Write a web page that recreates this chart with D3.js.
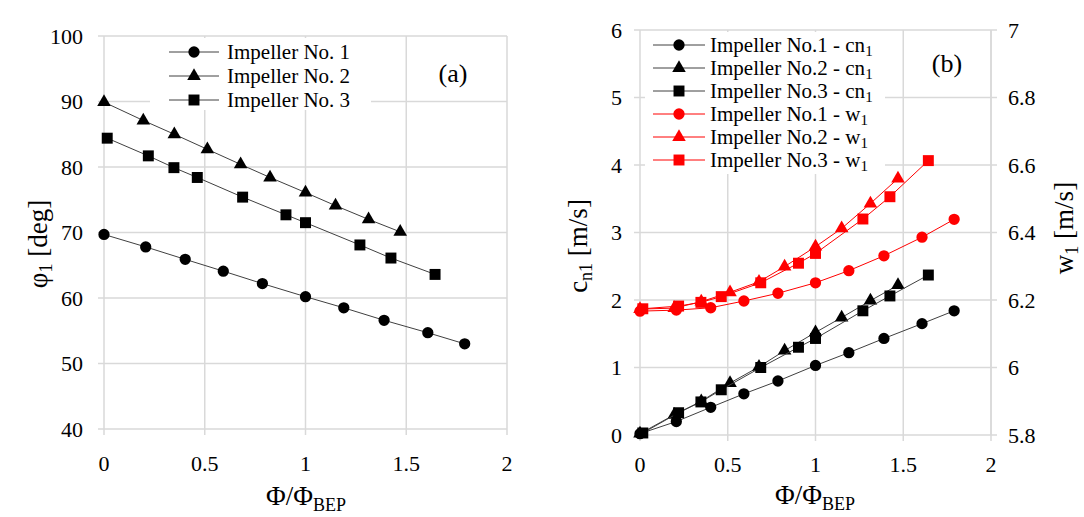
<!DOCTYPE html>
<html>
<head>
<meta charset="utf-8">
<script src="https://cdn.jsdelivr.net/npm/d3@7"></script>
</head>
<body style="margin:0">
<svg id="chart" width="1084" height="517"></svg>
<script>
// x positions (flow ratio) for each impeller
const flowImp1 = [0, 0.207, 0.403, 0.592, 0.786, 1.0, 1.19, 1.39, 1.607, 1.79];
const flowImp2 = [0, 0.195, 0.349, 0.513, 0.678, 0.824, 1.0, 1.149, 1.313, 1.47];
const flowImp3 = [0.016, 0.22, 0.347, 0.463, 0.688, 0.903, 1.0, 1.27, 1.424, 1.643];

// (a) inlet angle phi1 [deg]
const phiImp1 = [69.7, 67.8, 65.9, 64.1, 62.2, 60.2, 58.5, 56.6, 54.7, 53.0];
const phiImp2 = [89.9, 87.1, 85.0, 82.7, 80.4, 78.4, 76.1, 74.1, 72.0, 70.1];
const phiImp3 = [84.4, 81.7, 79.9, 78.4, 75.4, 72.7, 71.5, 68.1, 66.1, 63.6];

// (b) cn1 [m/s] (left axis) and w1 [m/s] (right axis)
const cnImp1 = [0.02, 0.20, 0.41, 0.61, 0.80, 1.03, 1.22, 1.43, 1.65, 1.84];
const cnImp2 = [0.02, 0.30, 0.50, 0.77, 1.01, 1.25, 1.52, 1.74, 1.99, 2.22];
const cnImp3 = [0.03, 0.33, 0.49, 0.67, 1.00, 1.30, 1.43, 1.84, 2.06, 2.37];
const wImp1 = [6.167, 6.170, 6.177, 6.197, 6.220, 6.251, 6.287, 6.331, 6.386, 6.439];
const wImp2 = [6.173, 6.176, 6.195, 6.223, 6.254, 6.299, 6.358, 6.412, 6.486, 6.560];
const wImp3 = [6.174, 6.182, 6.193, 6.210, 6.251, 6.309, 6.338, 6.440, 6.506, 6.613];

const xTicks = [0, 0.5, 1, 1.5, 2];
const phiTicks = [40, 50, 60, 70, 80, 90, 100];
const cnTicks = [0, 1, 2, 3, 4, 5, 6];
const wTicks = [5.8, 6, 6.2, 6.4, 6.6, 6.8, 7];

const legendA = ["Impeller No. 1", "Impeller No. 2", "Impeller No. 3"];
const legendB = ["Impeller No.1 - cn", "Impeller No.2 - cn", "Impeller No.3 - cn",
                 "Impeller No.1 - w", "Impeller No.2 - w", "Impeller No.3 - w"];

const GRID = "#d9d9d9";
const symbols = [d3.symbolCircle, d3.symbolTriangle, d3.symbolSquare];
const symSize = [100, 80, 120];

const svg = d3.select("#chart");

function zip(xs, ys) { return xs.map((x, i) => [x, ys[i]]); }

function label(parent, size) {
  return parent.append("text")
    .attr("font-size", size)
    .style("font-family", "'Liberation Serif'");
}

function grid(g, x, y, xt, yt) {
  g.append("g").selectAll("line").data(xt).join("line")
    .attr("x1", d => x(d)).attr("x2", d => x(d))
    .attr("y1", y.range()[0] + 6).attr("y2", y.range()[1])
    .attr("stroke", GRID).attr("stroke-width", 1.5);
  g.append("g").selectAll("line").data(yt).join("line")
    .attr("x1", x.range()[0] - 6).attr("x2", x.range()[1])
    .attr("y1", d => y(d)).attr("y2", d => y(d))
    .attr("stroke", GRID).attr("stroke-width", 1.5);
}

function series(g, x, y, data, sym, size, color, lineColor) {
  g.append("path").datum(data)
    .attr("fill", "none").attr("stroke", lineColor).attr("stroke-width", 1)
    .attr("d", d3.line().x(d => x(d[0])).y(d => y(d[1])));
  g.append("g").selectAll("path").data(data).join("path")
    .attr("transform", d => `translate(${x(d[0])},${y(d[1])})`)
    .attr("d", d3.symbol(sym, size))
    .attr("fill", color);
}

function tickLabels(g, vals, fx, fy, anchor) {
  const gg = g.append("g");
  vals.forEach(v => {
    label(gg, 22).attr("x", fx(v)).attr("y", fy(v))
      .attr("text-anchor", anchor).text(v);
  });
}

function xTitle(g, cx, y0) {
  const t = label(g, 27).attr("x", cx).attr("y", y0).attr("text-anchor", "middle");
  t.append("tspan").text("Φ/Φ");
  t.append("tspan").attr("font-size", 18).attr("dy", 6).text("BEP");
}

function yTitle(g, cx, cy, main, sub, rest) {
  const t = label(g, 27).attr("transform", `translate(${cx},${cy}) rotate(-90)`)
    .attr("text-anchor", "middle");
  t.append("tspan").text(main);
  t.append("tspan").attr("font-size", 18).attr("dy", 5).text(sub);
  t.append("tspan").attr("dy", -5).text(rest);
}

// ---------- panel (a) ----------
const xa = d3.scaleLinear().domain([0, 2]).range([104, 507]);
const ya = d3.scaleLinear().domain([40, 100]).range([429, 36]);
const ga = svg.append("g");
grid(ga, xa, ya, xTicks, phiTicks);

tickLabels(ga, phiTicks, () => 83, d => ya(d) + 7.5, "end");
tickLabels(ga, xTicks, d => xa(d), () => 471, "middle");
xTitle(ga, 306, 505);
yTitle(ga, 47, 244, "φ", "1", " [deg]");

// legend (a)
ga.append("rect").attr("x", 150).attr("y", 38).attr("width", 221).attr("height", 72).attr("fill", "#fff");
legendA.forEach((name, i) => {
  const row = ga.append("g").attr("transform", `translate(0,${52 + i * 24})`);
  row.append("line").attr("x1", 169).attr("x2", 219).attr("stroke", "#404040").attr("stroke-width", 1);
  row.append("path").attr("transform", "translate(194,0)")
    .attr("d", d3.symbol(symbols[i], symSize[i])()).attr("fill", "#000");
  label(row, 21).attr("x", 227).attr("y", 7).text(name);
});

label(ga, 26).attr("x", 453).attr("y", 82).attr("text-anchor", "middle").text("(a)");

series(ga, xa, ya, zip(flowImp1, phiImp1), symbols[0], symSize[0], "#000", "#404040");
series(ga, xa, ya, zip(flowImp2, phiImp2), symbols[1], symSize[1], "#000", "#404040");
series(ga, xa, ya, zip(flowImp3, phiImp3), symbols[2], symSize[2], "#000", "#404040");

// ---------- panel (b) ----------
const xb = d3.scaleLinear().domain([0, 2]).range([640, 991]);
const yb = d3.scaleLinear().domain([0, 6]).range([435, 30]);
const yw = d3.scaleLinear().domain([5.8, 7]).range([435, 30]);
const gb = svg.append("g");
grid(gb, xb, yb, xTicks, cnTicks);
// right axis line and ticks
gb.append("line").attr("x1", 991).attr("x2", 991).attr("y1", yw(5.8)).attr("y2", yw(7))
  .attr("stroke", GRID).attr("stroke-width", 1.5);
gb.append("g").selectAll("line").data(wTicks).join("line")
  .attr("x1", 991).attr("x2", 997).attr("y1", d => yw(d)).attr("y2", d => yw(d))
  .attr("stroke", GRID).attr("stroke-width", 1.5);

tickLabels(gb, cnTicks, () => 622, d => yb(d) + 7.5, "end");
tickLabels(gb, wTicks, () => 1008, d => yw(d) + 7.5, "start");
tickLabels(gb, xTicks, d => xb(d), () => 472, "middle");
xTitle(gb, 815, 504);
yTitle(gb, 587, 246, "c", "n1", " [m/s]");
yTitle(gb, 1073, 228, "w", "1", " [m/s]");

// legend (b)
gb.append("rect").attr("x", 645).attr("y", 32).attr("width", 240).attr("height", 142).attr("fill", "#fff");
legendB.forEach((name, i) => {
  const red = i >= 3;
  const row = gb.append("g").attr("transform", `translate(0,${45 + i * 23})`);
  row.append("line").attr("x1", 653).attr("x2", 705)
    .attr("stroke", red ? "#ff0000" : "#404040").attr("stroke-width", 1);
  row.append("path").attr("transform", "translate(679,0)")
    .attr("d", d3.symbol(symbols[i % 3], symSize[i % 3])())
    .attr("fill", red ? "#ff0000" : "#000");
  const t = label(row, 21).attr("x", 710).attr("y", 7);
  t.append("tspan").text(name);
  t.append("tspan").attr("font-size", 15).attr("dy", 4).text("1");
});

label(gb, 26).attr("x", 947).attr("y", 72).attr("text-anchor", "middle").text("(b)");

series(gb, xb, yw, zip(flowImp1, wImp1), symbols[0], symSize[0], "#ff0000", "#ff0000");
series(gb, xb, yw, zip(flowImp2, wImp2), symbols[1], symSize[1], "#ff0000", "#ff0000");
series(gb, xb, yw, zip(flowImp3, wImp3), symbols[2], symSize[2], "#ff0000", "#ff0000");
series(gb, xb, yb, zip(flowImp1, cnImp1), symbols[0], symSize[0], "#000", "#404040");
series(gb, xb, yb, zip(flowImp2, cnImp2), symbols[1], symSize[1], "#000", "#404040");
series(gb, xb, yb, zip(flowImp3, cnImp3), symbols[2], symSize[2], "#000", "#404040");
</script>
</body>
</html>
